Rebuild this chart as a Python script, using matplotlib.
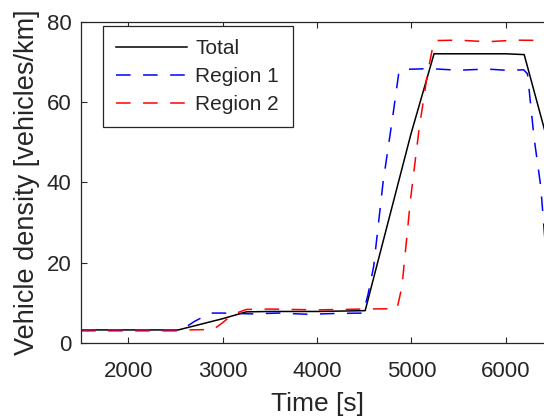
import matplotlib
matplotlib.use("Agg")
import matplotlib.pyplot as plt

plt.rcParams['font.family'] = ['Liberation Sans', 'DejaVu Sans']
plt.rcParams['lines.scale_dashes'] = False

# Data
t_total = [1500, 2530, 3000, 3250, 3500, 4000, 4510, 4995, 5240, 5600, 6000, 6195, 6500]
d_total = [3.2, 3.2, 6.0, 7.7, 7.8, 7.8, 8.0, 52.0, 72.0, 72.0, 72.0, 71.8, 45.3]

t_region1 = [1500, 2000, 2550, 2700, 2870, 3000, 3300, 3600, 3900, 4200, 4490, 4540,
             4600, 4700, 4800, 4865, 4900, 5200, 5500, 5800, 6000, 6190, 6230, 6300,
             6370, 6412, 6500]
d_region1 = [3.0, 3.0, 3.0, 5.3, 7.4, 7.4, 7.2, 7.4, 7.1, 7.3, 7.4, 12.0,
             19.0, 40.0, 56.0, 67.0, 68.1, 68.3, 67.9, 68.2, 67.9, 68.0, 67.0, 51.0,
             39.0, 26.4, 8.0]

t_region2 = [1500, 2000, 2600, 2900, 3000, 3100, 3250, 3500, 4000, 4500, 4848, 4900,
             4990, 5080, 5170, 5220, 5250, 5500, 5800, 6100, 6500]
d_region2 = [3.2, 3.2, 3.2, 3.3, 5.0, 7.0, 8.3, 8.4, 8.2, 8.4, 8.5, 14.0,
             35.6, 53.0, 67.0, 73.0, 75.3, 75.4, 75.0, 75.4, 75.3]

labels = ["Total", "Region 1", "Region 2"]
x_ticks = [2000, 3000, 4000, 5000, 6000]
y_ticks = [0, 20, 40, 60, 80]

txt = (0.15, 0.15, 0.15)

fig = plt.figure(figsize=(5.44, 4.17), dpi=100)
ax = fig.add_axes([0.149, 0.178, 0.8675, 0.770])

dash = (10.5, 9.0)
ax.plot(t_total, d_total, color='black', lw=1.1, label=labels[0])
ax.plot(t_region1, d_region1, color=(0, 0, 1), lw=1.1, dashes=dash, label=labels[1])
ax.plot(t_region2, d_region2, color=(1, 0, 0), lw=1.1, dashes=dash, label=labels[2])

ax.set_xlim(1500, 6500)
ax.set_ylim(0, 80)
ax.set_xticks(x_ticks)
ax.set_yticks(y_ticks)
ax.tick_params(direction='in', length=4.5, width=0.8, colors=txt, labelsize=16,
               top=True, right=True)
ax.tick_params(axis='x', pad=13)
ax.tick_params(axis='y', pad=7)
for s in ax.spines.values():
    s.set_color(txt)
    s.set_linewidth(0.9)

ax.set_xlabel("Time [s]", fontsize=19, color=txt, labelpad=7)
ax.set_ylabel("Vehicle density [vehicles/km]", fontsize=19.5, color=txt, labelpad=5)

leg = ax.legend(loc='upper left', bbox_to_anchor=(0.046, 0.987), borderaxespad=0,
                fontsize=15, fancybox=False, framealpha=1, edgecolor=txt,
                handlelength=3.4, handletextpad=0.4, labelspacing=0.42,
                borderpad=0.65)
leg.get_frame().set_linewidth(0.9)
for t in leg.get_texts():
    t.set_color(txt)

fig.savefig("out.png", dpi=100)
